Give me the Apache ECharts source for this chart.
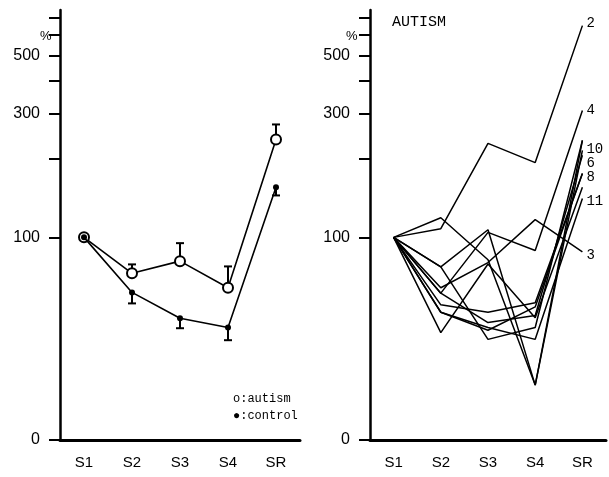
<!DOCTYPE html>
<html>
<head>
<meta charset="utf-8">
<script src="https://cdn.jsdelivr.net/npm/echarts@6/dist/echarts.min.js"></script>
<style>
html, body { margin: 0; padding: 0; background: #fff; }
#chart { width: 609px; height: 477px; }
</style>
</head>
<body>
<div id="chart"></div>
<script>
// stages on the x axis
var stages = ['S1', 'S2', 'S3', 'S4', 'SR'];

// y axis (log-like percent scale, bottom is labelled 0)
var yBottom = 16.6;
var yTop = 750;
var yTicks = [100, 200, 300, 400, 500, 600, 700];
var yLabels = [100, 300, 500];

// left panel: group means and error bar ends
var autismMean = [100, 72.7, 81, 64, 238];
var autismErr = [null, 78.7, 95, 77.3, 272];
var controlMean = [100, 61.4, 48.8, 45, 156];
var controlErr = [null, 55.7, 44.7, 40.2, 145];

// right panel: single autism cases
var case1 = [100, 77, 40.5, 45, 236];
var case2 = [100, 108, 230, 194, 653];
var case3 = [100, 64, 80, 117, 88];
var case4 = [100, 61, 104.5, 89, 308];
var case5 = [100, 61, 47, 50, 207];
var case6 = [100, 77, 107, 27, 216];
var case7 = [100, 43, 79, 49, 156];
var case8 = [100, 55, 51.5, 56, 176];
var case9 = [100, 51.5, 43.9, 54, 176];
var case10 = [100, 119, 82, 27, 236];
var case11 = [100, 51.5, 45, 40.5, 141];

var labelled = { '2': case2, '4': case4, '10': case10, '6': case6, '8': case8, '11': case11, '3': case3 };
var unlabelled = [case1, case5, case7, case9];
// small nudges so the end numbers sit like in the print
var labelNudge = { '2': -2, '4': 0, '10': 9, '6': 13, '8': 4, '11': 3, '3': 4 };

var chart = echarts.init(document.getElementById('chart'));
var sans = 'Liberation Sans';
var mono = 'Liberation Mono';

function xAxis(idx) {
    return {
        type: 'category', gridIndex: idx, data: stages, boundaryGap: true,
        axisLine: { lineStyle: { color: '#000', width: 3 } },
        axisTick: { show: false },
        axisLabel: { color: '#000', fontSize: 15, fontFamily: sans, margin: 15 }
    };
}

function yAxis(idx) {
    return {
        type: 'log', gridIndex: idx, logBase: 10, min: yBottom, max: yTop,
        splitLine: { show: false },
        axisLine: { show: true, lineStyle: { color: '#000', width: 2.5 } },
        axisTick: { show: true, length: 11, lineStyle: { color: '#000', width: 2 },
            customValues: [yBottom + 0.02].concat(yTicks) },
        axisLabel: { color: '#000', fontSize: 16, fontFamily: sans, margin: 20,
            customValues: [yBottom + 0.02].concat(yLabels),
            formatter: function (v) { return v < 50 ? '0' : String(Math.round(v)); } }
    };
}

function errorBars(mean, err) {
    var data = [];
    mean.forEach(function (m, i) {
        if (err[i] != null) data.push([i, m, err[i]]);
    });
    return {
        type: 'custom', xAxisIndex: 0, yAxisIndex: 0, data: data, z: 1, silent: true,
        renderItem: function (params, api) {
            var p = api.coord([api.value(0), api.value(1)]);
            var e = api.coord([api.value(0), api.value(2)]);
            var st = { stroke: '#000', lineWidth: 2 };
            return {
                type: 'group', children: [
                    { type: 'line', shape: { x1: p[0], y1: p[1], x2: e[0], y2: e[1] }, style: st },
                    { type: 'line', shape: { x1: e[0] - 4, y1: e[1], x2: e[0] + 4, y2: e[1] }, style: st }
                ]
            };
        }
    };
}

var series = [
    errorBars(autismMean, autismErr),
    errorBars(controlMean, controlErr),
    {
        name: 'autism', type: 'line', xAxisIndex: 0, yAxisIndex: 0, data: autismMean, z: 3,
        symbol: 'circle', symbolSize: 10, showAllSymbol: true,
        lineStyle: { color: '#000', width: 1.6 },
        itemStyle: { color: '#fff', borderColor: '#000', borderWidth: 2 }
    },
    {
        name: 'control', type: 'line', xAxisIndex: 0, yAxisIndex: 0, data: controlMean, z: 4,
        symbol: 'circle', symbolSize: 6, showAllSymbol: true,
        lineStyle: { color: '#000', width: 1.6 },
        itemStyle: { color: '#000' }
    }
];

Object.keys(labelled).forEach(function (name) {
    series.push({
        name: name, type: 'line', xAxisIndex: 1, yAxisIndex: 1, data: labelled[name],
        symbol: 'none', lineStyle: { color: '#000', width: 1.5 },
        endLabel: { show: true, formatter: '{a}', distance: 4, offset: [0, labelNudge[name]],
            color: '#000', fontSize: 14, fontFamily: mono }
    });
});
unlabelled.forEach(function (d, i) {
    series.push({
        name: 'u' + i, type: 'line', xAxisIndex: 1, yAxisIndex: 1, data: d,
        symbol: 'none', lineStyle: { color: '#000', width: 1.5 }
    });
});

chart.setOption({
    animation: false,
    backgroundColor: '#fff',
    grid: [
        { left: 60, top: 10, width: 240, height: 430 },
        { left: 370, top: 10, width: 236, height: 430 }
    ],
    title: [
        { text: '%', left: 40, top: 30, padding: 0,
            textStyle: { fontSize: 13, fontWeight: 'normal', fontFamily: sans, color: '#000' } },
        { text: '%', left: 346, top: 30, padding: 0,
            textStyle: { fontSize: 13, fontWeight: 'normal', fontFamily: sans, color: '#000' } },
        { text: 'AUTISM', left: 392, top: 15, padding: 0,
            textStyle: { fontSize: 15, fontWeight: 'normal', fontFamily: mono, color: '#000' } },
        { text: 'o:autism\n●:control', left: 233, top: 390, padding: 0,
            textStyle: { fontSize: 12, lineHeight: 17, fontWeight: 'normal', fontFamily: mono, color: '#000' } }
    ],
    xAxis: [xAxis(0), xAxis(1)],
    yAxis: [yAxis(0), yAxis(1)],
    series: series
});
</script>
</body>
</html>
